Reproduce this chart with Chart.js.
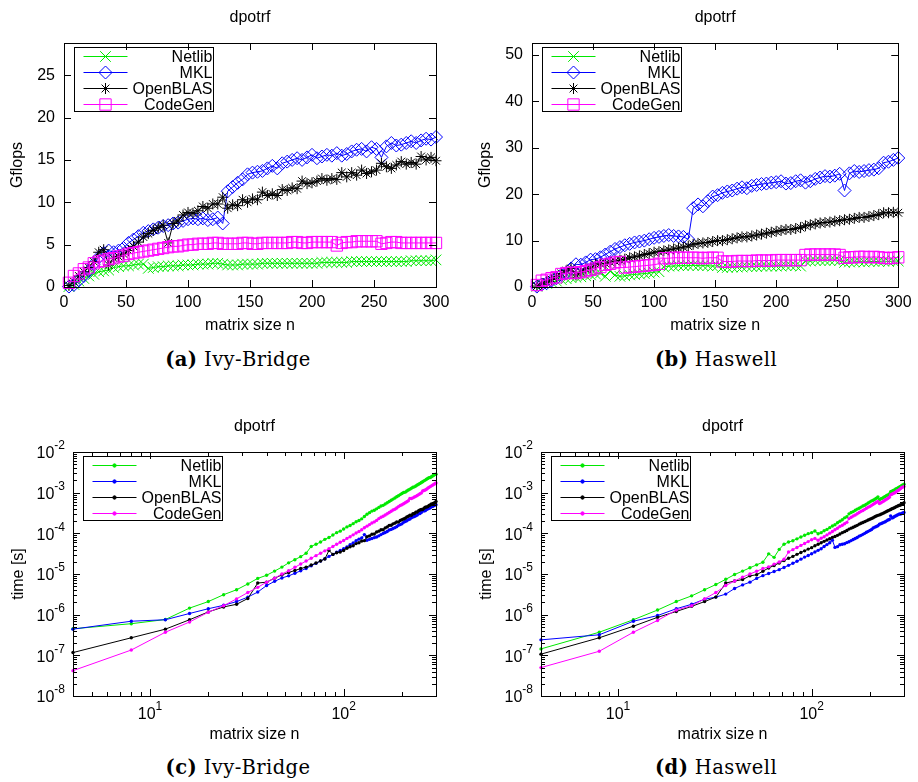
<!DOCTYPE html>
<html>
<head>
<meta charset="utf-8">
<title>dpotrf</title>
<script src="https://cdn.jsdelivr.net/npm/chart.js@4/dist/chart.umd.min.js"></script>
<style>
  body { margin: 0; background: #fff; width: 918px; height: 782px; position: relative; overflow: hidden; }
  canvas { position: absolute; }
  .cap { position: absolute; font-family: "DejaVu Serif", serif; font-size: 19.5px; line-height: 22px;
         letter-spacing: 0.4px; transform: translateX(-50%); white-space: nowrap; color: #000; }
</style>
</head>
<body>
<canvas id="ivyGflops" width="459" height="340" style="left:0px;top:0px"></canvas>
<canvas id="hswGflops" width="459" height="340" style="left:459px;top:0px"></canvas>
<canvas id="ivyTime" width="459" height="340" style="left:0px;top:409px"></canvas>
<canvas id="hswTime" width="459" height="340" style="left:459px;top:409px"></canvas>
<div class="cap" style="left:238px;top:349px"><b>(a)</b> Ivy-Bridge</div>
<div class="cap" style="left:716px;top:349px"><b>(b)</b> Haswell</div>
<div class="cap" style="left:238px;top:757px"><b>(c)</b> Ivy-Bridge</div>
<div class="cap" style="left:716px;top:757px"><b>(d)</b> Haswell</div>
<script>
// matrix sizes n, same for every panel
const sizes = [4,8,12,16,20,24,28,32,36,40,44,48,52,56,60,64,68,72,76,80,84,88,92,96,100,
  104,108,112,116,120,124,128,132,136,140,144,148,152,156,160,164,168,172,176,180,184,188,192,196,200,
  204,208,212,216,220,224,228,232,236,240,244,248,252,256,260,264,268,272,276,280,284,288,292,296,300];

const seriesNames = ['Netlib', 'MKL', 'OpenBLAS', 'CodeGen'];

// (a) Ivy-Bridge, Gflops
const ivyNetlibGf = [0.05,0.3,0.7,1.0,1.3,1.5,1.8,1.9,2.0,2.3, 2.4,2.5,2.5,2.6,2.7,2.7,2.2,2.3,2.4,2.4,
  2.5,2.5,2.5,2.6,2.6,2.6,2.7,2.7,2.7,2.8, 2.8,2.7,2.6,2.6,2.6,2.7,2.7,2.7,2.7,2.8,
  2.8,2.8,2.8,2.8,2.8,2.8,2.8,2.8,2.8,2.8, 2.8,2.9,2.9,2.9,2.9,2.9,2.9,3.0,3.0,3.0,
  3.0,3.0,3.0,3.0,3.0,3.0,3.0,3.0,3.0,3.1, 3.1,3.1,3.1,3.1,3.2];
const ivyMklGf = [0.05,0.25,0.8,1.3,1.9,2.7,3.5,4.0,4.3,4.1, 4.3,4.6,5.2,5.6,6.0,6.4,6.6,6.8,7.0,7.2,
  7.3,7.5,7.6,7.8,8.0,8.1,8.0,8.1,7.9,8.0, 8.2,7.5,11.3,11.8,12.3,12.7,13.3,13.5,13.6,13.7,
  14.0,14.3,14.0,14.6,14.8,15.0,15.2,15.0,15.3,15.6, 15.2,15.4,15.6,15.5,15.8,15.5,15.7,16.0,16.2,16.3,
  16.0,16.5,16.3,15.3,16.6,17.0,16.7,16.8,17.0,17.2, 17.0,17.3,17.5,17.4,17.7];
const ivyOpenblasGf = [0.18,0.63,1.3,1.8,2.3,3.0,4.1,4.4,2.6,3.4, 3.6,3.9,4.3,4.8,5.3,5.9,6.3,6.7,7.0,7.3,
  5.2,7.5,7.8,8.5,8.8,8.7,9.0,9.5,9.3,9.8, 9.8,10.6,9.3,9.7,9.6,10.3,10.0,10.4,10.3,11.2,
  10.8,11.0,10.8,11.5,11.4,11.7,11.6,12.5,12.2,12.3, 12.5,12.8,12.6,12.8,12.7,13.5,13.0,13.5,13.2,13.8,
  13.4,13.6,13.8,14.6,14.2,14.0,14.4,14.8,14.5,14.7, 14.5,15.4,15.0,15.3,14.9];
const ivyCodegenGf = [0.5,1.3,1.6,2.1,2.3,2.8,3.0,3.1,3.3,3.4, 3.6,3.7,3.9,4.0,4.1,4.2,4.3,4.4,4.5,4.6,
  4.7,4.8,4.8,4.9,5.0,5.0,5.1,5.1,5.1,5.2, 5.2,5.1,5.1,5.1,5.1,5.2,5.2,5.1,5.1,5.2,
  5.2,5.2,5.2,5.2,5.2,5.3,5.3,5.2,5.2,5.3, 5.3,5.3,5.3,5.3,4.9,5.2,5.3,5.3,5.4,5.4,
  5.4,5.4,5.4,5.1,5.2,5.3,5.3,5.2,5.2,5.2, 5.2,5.2,5.2,5.2,5.2];

// (b) Haswell, Gflops
const hswNetlibGf = [0.15,0.46,0.77,1.05,1.27,1.6,1.8,2.0,2.1,2.2, 2.4,2.6,2.8,3.0,2.3,3.4,2.6,2.3,2.4,2.6,
  2.7,2.8,2.9,3.0,3.2,3.3,4.3,4.5,4.5,4.6, 4.6,4.6,4.7,4.6,4.6,4.6,4.5,4.6,4.2,4.2,
  4.3,4.3,4.3,4.4,4.4,4.4,4.5,4.5,4.5,4.5, 4.5,4.6,4.6,4.6,4.5,5.6,5.6,5.7,5.7,5.7,
  5.7,5.8,5.7,5.3,5.4,5.4,5.5,5.4,5.5,5.5, 5.5,5.6,5.5,5.6,5.6];
const hswMklGf = [0.09,0.53,0.83,1.4,1.9,2.6,3.0,4.0,4.9,4.8, 5.3,5.9,6.0,6.4,7.0,7.6,8.2,8.6,9.0,9.3,
  9.6,9.8,10.0,10.3,10.6,10.8,11.0,11.2,11.0,10.9, 10.8,10.3,17.0,17.8,17.4,18.5,19.5,19.8,20.3,20.6,
  20.8,21.2,21.5,21.3,21.8,22.0,22.2,22.3,22.5,22.6, 22.8,22.3,22.4,22.8,23.0,22.5,22.8,23.3,23.6,23.9,
  23.8,24.0,24.4,20.8,24.5,25.0,24.8,25.0,25.2,25.3, 25.6,26.8,27.0,27.4,27.8];
const hswOpenblasGf = [0.2,0.63,1.1,1.6,2.2,2.9,3.5,4.0,2.6,3.2, 3.9,4.1,4.9,5.0,5.1,5.4,5.6,5.8,6.0,6.3,
  6.5,6.7,7.0,7.2,7.5,7.6,7.8,8.0,8.2,8.4, 8.6,8.8,9.2,9.4,9.5,9.6,9.8,10.0,10.0,10.2,
  10.4,10.6,10.8,10.8,11.0,11.2,11.4,11.6,11.8,12.0, 12.2,12.4,12.4,12.6,12.8,13.2,13.4,13.6,13.8,13.9,
  14.0,14.2,14.3,14.5,14.6,14.8,15.0,15.0,15.2,15.4, 15.6,16.0,16.0,16.1,16.0];
const hswCodegenGf = [0.43,1.36,1.56,1.9,2.1,2.8,3.0,3.1,3.0,3.2, 3.4,3.7,4.0,4.3,4.8,5.0,5.3,5.4,4.2,4.3,
  4.4,4.5,4.6,4.7,4.8,5.0,6.2,6.2,6.3,6.3, 6.3,6.3,6.3,6.3,6.2,6.3,6.3,6.3,5.5,5.5,
  5.5,5.6,5.6,5.6,5.6,5.7,5.7,5.7,5.7,5.8, 5.8,5.8,5.8,5.8,5.8,6.9,7.0,7.0,7.0,7.0,
  7.0,7.0,6.9,6.3,6.4,6.4,6.5,6.5,6.4,6.5, 6.4,6.3,6.2,6.3,6.4];

// (c) Ivy-Bridge, time [s]
const ivyNetlibTime = [4.5e-7,6.0e-7,7.6e-7,1.45e-6,2.1e-6,3.1e-6,4.1e-6,5.7e-6,7.8e-6,9.3e-6,
  1.18e-5,1.48e-5,1.88e-5,2.25e-5,2.67e-5,3.24e-5,4.76e-5,5.41e-5,6.1e-5,7.11e-5,
  7.9e-5,9.09e-5,1.04e-4,1.13e-4,1.28e-4,1.44e-4,1.56e-4,1.73e-4,1.93e-4,2.06e-4,
  2.27e-4,2.59e-4,2.95e-4,3.23e-4,3.52e-4,3.69e-4,4.0e-4,4.34e-4,4.69e-4,4.88e-4,
  5.25e-4,5.65e-4,6.06e-4,6.49e-4,6.94e-4,7.42e-4,7.91e-4,8.43e-4,8.96e-4,9.52e-4,
  1.01e-3,1.03e-3,1.10e-3,1.16e-3,1.22e-3,1.29e-3,1.36e-3,1.39e-3,1.46e-3,1.54e-3,
  1.61e-3,1.69e-3,1.78e-3,1.86e-3,1.95e-3,2.04e-3,2.14e-3,2.24e-3,2.34e-3,2.36e-3,
  2.46e-3,2.57e-3,2.68e-3,2.79e-3,2.85e-3];
const ivyMklTime = [4.4e-7,6.9e-7,7.5e-7,1.07e-6,1.4e-6,1.7e-6,2.1e-6,2.7e-6,3.6e-6,5.2e-6,
  6.6e-6,8.0e-6,9.0e-6,1.04e-5,1.2e-5,1.37e-5,1.59e-5,1.83e-5,2.09e-5,2.37e-5,
  2.71e-5,3.03e-5,3.42e-5,3.78e-5,4.17e-5,4.63e-5,5.25e-5,5.78e-5,6.59e-5,7.2e-5,
  7.75e-5,9.32e-5,6.78e-5,7.11e-5,7.44e-5,7.84e-5,8.12e-5,8.67e-5,9.31e-5,9.97e-5,
  1.05e-4,1.11e-4,1.21e-4,1.25e-4,1.31e-4,1.38e-4,1.46e-4,1.57e-4,1.64e-4,1.71e-4,
  1.86e-4,1.95e-4,2.04e-4,2.17e-4,2.25e-4,2.42e-4,2.52e-4,2.60e-4,2.70e-4,2.83e-4,
  3.03e-4,3.08e-4,3.27e-4,3.66e-4,3.53e-4,3.61e-4,3.84e-4,3.99e-4,4.12e-4,4.25e-4,
  4.49e-4,4.60e-4,4.74e-4,4.97e-4,5.08e-4];
const ivyOpenblasTime = [1.17e-7,2.7e-7,4.4e-7,7.5e-7,1.17e-6,1.55e-6,1.8e-6,2.5e-6,6.0e-6,6.3e-6,
  7.9e-6,9.5e-6,1.09e-5,1.22e-5,1.36e-5,1.48e-5,1.66e-5,1.86e-5,2.09e-5,2.34e-5,
  3.8e-5,3.03e-5,3.33e-5,3.47e-5,3.79e-5,4.31e-5,4.67e-5,4.93e-5,5.59e-5,5.88e-5,
  6.48e-5,6.6e-5,8.24e-5,8.64e-5,9.53e-5,9.66e-5,1.08e-4,1.13e-4,1.23e-4,1.22e-4,
  1.36e-4,1.44e-4,1.57e-4,1.58e-4,1.71e-4,1.78e-4,1.91e-4,1.89e-4,2.06e-4,2.17e-4,
  2.26e-4,2.34e-4,2.52e-4,2.62e-4,2.80e-4,2.78e-4,3.04e-4,3.08e-4,3.32e-4,3.34e-4,
  3.61e-4,3.74e-4,3.87e-4,3.83e-4,4.13e-4,4.38e-4,4.46e-4,4.53e-4,4.83e-4,4.98e-4,
  5.27e-4,5.17e-4,5.53e-4,5.65e-4,6.04e-4];
const ivyCodegenTime = [4.2e-8,1.35e-7,3.7e-7,6.6e-7,1.15e-6,1.66e-6,2.45e-6,3.5e-6,4.7e-6,6.3e-6,
  7.9e-6,1.0e-5,1.2e-5,1.46e-5,1.76e-5,2.08e-5,2.44e-5,2.83e-5,3.25e-5,3.71e-5,
  4.2e-5,4.73e-5,5.41e-5,6.02e-5,6.67e-5,7.5e-5,8.23e-5,9.18e-5,1.02e-4,1.11e-4,
  1.22e-4,1.37e-4,1.50e-4,1.64e-4,1.79e-4,1.91e-4,2.08e-4,2.30e-4,2.48e-4,2.63e-4,
  2.83e-4,3.04e-4,3.26e-4,3.50e-4,3.74e-4,3.92e-4,4.18e-4,4.54e-4,4.83e-4,5.03e-4,
  5.34e-4,5.66e-4,5.99e-4,6.34e-4,7.24e-4,7.21e-4,7.45e-4,7.85e-4,8.11e-4,8.53e-4,
  8.97e-4,9.42e-4,9.88e-4,1.10e-3,1.13e-3,1.16e-3,1.21e-3,1.29e-3,1.35e-3,1.41e-3,
  1.47e-3,1.53e-3,1.60e-3,1.66e-3,1.73e-3];

// (d) Haswell, time [s]
const hswNetlibTime = [1.44e-7,3.7e-7,7.5e-7,1.3e-6,2.1e-6,2.9e-6,4.1e-6,5.5e-6,7.4e-6,9.7e-6,
  1.18e-5,1.42e-5,1.68e-5,1.95e-5,3.13e-5,2.57e-5,4.03e-5,5.41e-5,6.1e-5,6.57e-5,
  7.32e-5,8.11e-5,8.95e-5,9.83e-5,1.04e-4,1.14e-4,9.77e-5,1.04e-4,1.16e-4,1.25e-4,
  1.38e-4,1.52e-4,1.63e-4,1.82e-4,1.99e-4,2.16e-4,2.40e-4,2.55e-4,3.01e-4,3.25e-4,
  3.42e-4,3.68e-4,3.94e-4,4.13e-4,4.42e-4,4.72e-4,4.92e-4,5.24e-4,5.58e-4,5.93e-4,
  6.29e-4,6.52e-4,6.90e-4,7.30e-4,7.89e-4,6.69e-4,7.06e-4,7.30e-4,7.69e-4,8.08e-4,
  8.50e-4,8.77e-4,9.36e-4,1.06e-3,1.09e-3,1.14e-3,1.17e-3,1.24e-3,1.27e-3,1.33e-3,
  1.39e-3,1.42e-3,1.51e-3,1.54e-3,1.61e-3];
const hswMklTime = [2.4e-7,3.2e-7,6.9e-7,9.5e-7,1.4e-6,1.8e-6,2.4e-6,2.7e-6,3.2e-6,4.4e-6,
  5.4e-6,6.3e-6,7.8e-6,9.1e-6,1.03e-5,1.15e-5,1.28e-5,1.45e-5,1.63e-5,1.84e-5,
  2.06e-5,2.32e-5,2.6e-5,2.86e-5,3.14e-5,3.47e-5,3.82e-5,4.18e-5,4.73e-5,5.28e-5,
  5.88e-5,6.79e-5,4.51e-5,4.71e-5,5.26e-5,5.38e-5,5.54e-5,5.91e-5,6.23e-5,6.63e-5,
  7.07e-5,7.46e-5,7.89e-5,8.53e-5,8.92e-5,9.44e-5,9.98e-5,1.06e-4,1.12e-4,1.18e-4,
  1.24e-4,1.35e-4,1.42e-4,1.47e-4,1.54e-4,1.67e-4,1.73e-4,1.79e-4,1.86e-4,1.93e-4,
  2.03e-4,2.12e-4,2.19e-4,2.69e-4,2.39e-4,2.45e-4,2.59e-4,2.68e-4,2.78e-4,2.89e-4,
  2.98e-4,2.97e-4,3.07e-4,3.16e-4,3.24e-4];
const hswOpenblasTime = [1.07e-7,2.7e-7,5.2e-7,8.6e-7,1.2e-6,1.6e-6,2.1e-6,2.7e-6,6.0e-6,6.7e-6,
  7.3e-6,9.0e-6,9.6e-6,1.17e-5,1.41e-5,1.62e-5,1.87e-5,2.14e-5,2.44e-5,2.71e-5,
  3.04e-5,3.39e-5,3.71e-5,4.1e-5,4.44e-5,4.93e-5,5.38e-5,5.85e-5,6.35e-5,6.86e-5,
  7.39e-5,7.94e-5,8.33e-5,8.92e-5,9.63e-5,1.04e-4,1.10e-4,1.17e-4,1.27e-4,1.34e-4,
  1.41e-4,1.49e-4,1.57e-4,1.68e-4,1.77e-4,1.85e-4,1.94e-4,2.03e-4,2.13e-4,2.22e-4,
  2.32e-4,2.42e-4,2.56e-4,2.67e-4,2.77e-4,2.84e-4,2.95e-4,3.06e-4,3.18e-4,3.32e-4,
  3.46e-4,3.58e-4,3.73e-4,3.86e-4,4.01e-4,4.14e-4,4.28e-4,4.47e-4,4.61e-4,4.75e-4,
  4.89e-4,4.98e-4,5.19e-4,5.37e-4,5.63e-4];
const hswCodegenTime = [5.0e-8,1.26e-7,3.7e-7,7.2e-7,1.3e-6,1.66e-6,2.45e-6,3.5e-6,5.2e-6,6.7e-6,
  8.4e-6,1.0e-5,1.17e-5,1.36e-5,1.5e-5,1.75e-5,1.98e-5,2.3e-5,3.48e-5,3.97e-5,
  4.49e-5,5.05e-5,5.64e-5,6.27e-5,6.94e-5,7.5e-5,6.77e-5,7.55e-5,8.26e-5,9.14e-5,
  1.01e-4,1.11e-4,1.22e-4,1.33e-4,1.48e-4,1.58e-4,1.72e-4,1.86e-4,2.30e-4,2.48e-4,
  2.67e-4,2.82e-4,3.03e-4,3.25e-4,3.47e-4,3.64e-4,3.89e-4,4.14e-4,4.40e-4,4.60e-4,
  4.88e-4,5.17e-4,5.48e-4,5.79e-4,6.12e-4,5.43e-4,5.64e-4,5.95e-4,6.26e-4,6.58e-4,
  6.92e-4,7.26e-4,7.73e-4,8.88e-4,9.15e-4,9.58e-4,9.87e-4,1.03e-3,1.10e-3,1.13e-3,
  1.19e-3,1.26e-3,1.34e-3,1.37e-3,1.41e-3];

// tick values
const sizeTicks = [0, 50, 100, 150, 200, 250, 300];
const ivyGflopsTicks = [0, 5, 10, 15, 20, 25];
const hswGflopsTicks = [0, 10, 20, 30, 40, 50];
const logSizeTicks = [10, 100];
const timeTicks = [1e-8, 1e-7, 1e-6, 1e-5, 1e-4, 1e-3, 1e-2];

const colors = ['#00e800', '#0000ff', '#000000', '#ff00ff'];
// gnuplot point types for the Gflops panels
const markers = [
  {shape: 'crossRot', r: 7.5},
  {shape: 'rectRot', r: 6.5},
  {shape: 'star', r: 5.5},
  {shape: 'rect', r: 8}
];

const FONT = '"Liberation Sans", Arial, sans-serif';
const FS = 16;   // gnuplot text size
Chart.defaults.font.family = FONT;
Chart.defaults.font.size = FS;
Chart.defaults.color = '#000';

function minorLog(min, max) {
  const out = [];
  for (let e = Math.floor(Math.log10(min)); e <= Math.ceil(Math.log10(max)); e++) {
    for (let k = 2; k <= 9; k++) {
      const v = k * Math.pow(10, e);
      if (v > min * 1.0001 && v < max * 0.9999) out.push(v);
    }
  }
  return out;
}

// box, inward ticks, 10^k labels and the boxed key, drawn the gnuplot way
const gnuplotLook = {
  id: 'gnuplotLook',
  afterLayout(chart) {
    const ca = chart.chartArea;
    chart.titleBlock.left = ca.left;   // title centred over the plot box
    chart.titleBlock.right = ca.right;
  },
  afterDatasetsDraw(chart) {
    const {ctx, chartArea: ca, scales} = chart;
    const x = scales.x, y = scales.y;
    ctx.save();
    ctx.strokeStyle = '#000';
    ctx.fillStyle = '#000';
    ctx.lineWidth = 1;

    ctx.beginPath();
    const xTick = (v, len) => {
      const px = Math.round(x.getPixelForValue(v)) + 0.5;
      ctx.moveTo(px, ca.bottom); ctx.lineTo(px, ca.bottom - len);
      ctx.moveTo(px, ca.top); ctx.lineTo(px, ca.top + len);
    };
    const yTick = (v, len) => {
      const py = Math.round(y.getPixelForValue(v)) + 0.5;
      ctx.moveTo(ca.left, py); ctx.lineTo(ca.left + len, py);
      ctx.moveTo(ca.right, py); ctx.lineTo(ca.right - len, py);
    };
    x.ticks.forEach(t => xTick(t.value, 7));
    y.ticks.forEach(t => yTick(t.value, 7));
    if (x.type === 'logarithmic') minorLog(x.min, x.max).forEach(v => xTick(v, 4));
    if (y.type === 'logarithmic') minorLog(y.min, y.max).forEach(v => yTick(v, 4));
    ctx.stroke();
    ctx.strokeRect(Math.round(ca.left) + 0.5, Math.round(ca.top) + 0.5,
                   Math.round(ca.width), Math.round(ca.height));

    const baseFont = FS + 'px ' + FONT, supFont = '12px ' + FONT;
    ctx.textBaseline = 'middle';
    if (y.type === 'logarithmic') {
      y.ticks.forEach(t => {
        const py = y.getPixelForValue(t.value);
        const exp = String(Math.round(Math.log10(t.value)));
        ctx.font = supFont;
        const we = ctx.measureText(exp).width;
        const xr = ca.left - 8;
        ctx.textAlign = 'left';
        ctx.fillText(exp, xr - we, py - 6);
        ctx.font = baseFont;
        ctx.textAlign = 'right';
        ctx.fillText('10', xr - we, py + 2);
      });
    }
    if (x.type === 'logarithmic') {
      x.ticks.forEach(t => {
        const px = x.getPixelForValue(t.value);
        const exp = String(Math.round(Math.log10(t.value)));
        ctx.font = baseFont;
        const wb = ctx.measureText('10').width;
        ctx.font = supFont;
        const we = ctx.measureText(exp).width;
        const x0 = px - (wb + we) / 2;
        ctx.textAlign = 'left';
        ctx.fillText(exp, x0 + wb, ca.bottom + 11);
        ctx.font = baseFont;
        ctx.fillText('10', x0, ca.bottom + 19);
      });
    }

    // key
    const bx = Math.round(ca.left + 10) + 0.5, by = Math.round(ca.top + 4) + 0.5;
    const bw = 139, bh = 64;
    ctx.strokeStyle = '#000';
    ctx.strokeRect(bx, by, bw, bh);
    chart.data.datasets.forEach((ds, i) => {
      const ry = Math.round(by + 8 + 16 * i) + 0.5;
      ctx.strokeStyle = ds.borderColor;
      ctx.lineWidth = 1;
      ctx.beginPath();
      ctx.moveTo(bx + 9, ry); ctx.lineTo(bx + 53, ry);
      ctx.stroke();
      ctx.fillStyle = ds.pointBackgroundColor;
      Chart.helpers.drawPoint(ctx, {pointStyle: ds.pointStyle, radius: ds.pointRadius,
                                    rotation: 0, borderWidth: 1}, bx + 31, ry);
      ctx.fillStyle = '#000';
      ctx.font = baseFont;
      ctx.textAlign = 'right';
      ctx.fillText(ds.label, bx + bw - 1, ry + 1);
    });
    ctx.restore();
  }
};

function makeSets(series, logPanel) {
  return series.map((vals, i) => ({
    label: seriesNames[i],
    data: sizes.map((n, k) => ({x: n, y: vals[k]})),
    borderColor: colors[i],
    borderWidth: 1,
    pointStyle: logPanel ? 'circle' : markers[i].shape,
    pointRadius: logPanel ? 1.7 : markers[i].r,
    pointBorderWidth: logPanel ? 0 : 1,
    pointBorderColor: colors[i],
    pointBackgroundColor: logPanel ? colors[i] : 'rgba(0,0,0,0)',
    tension: 0,
    clip: false,
    order: 3 - i   // later series on top, like gnuplot
  }));
}

function panel(id, opt) {
  const log = opt.log;
  const half = FS * 1.2 / 2;
  return new Chart(document.getElementById(id), {
    type: 'line',
    data: {datasets: makeSets(opt.series, log)},
    options: {
      responsive: false,
      animation: false,
      events: [],
      layout: {padding: {left: 0, right: opt.padRight, top: 0, bottom: 0}},
      scales: {
        x: {
          type: log ? 'logarithmic' : 'linear',
          min: log ? 4 : 0,
          max: 300,
          grid: {display: false, drawTicks: false},
          border: {display: false},
          ticks: {display: !log, padding: 16 - half, maxRotation: 0, autoSkip: false},
          afterBuildTicks: s => { s.ticks = (log ? logSizeTicks : sizeTicks).map(v => ({value: v})); },
          afterFit: s => { s.height = 53; },
          title: {display: true, text: 'matrix size n', padding: {top: 0, bottom: 14 - half}}
        },
        y: {
          type: log ? 'logarithmic' : 'linear',
          min: log ? 1e-8 : 0,
          max: opt.yMax,
          grid: {display: false, drawTicks: false},
          border: {display: false},
          ticks: {display: !log, padding: 9, autoSkip: false},
          afterBuildTicks: s => { s.ticks = opt.yTicks.map(v => ({value: v})); },
          afterFit: s => { s.width = opt.axisWidth; },
          title: {display: true, text: log ? 'time [s]' : 'Gflops', padding: {top: opt.yTitleX - half, bottom: 0}}
        }
      },
      plugins: {
        legend: {display: false},
        tooltip: {enabled: false},
        title: {display: true, text: 'dpotrf', font: {size: FS, weight: 'normal'},
                padding: {top: 18 - half, bottom: 43 - 18 - half}}
      }
    },
    plugins: [gnuplotLook]
  });
}

panel('ivyGflops', {series: [ivyNetlibGf, ivyMklGf, ivyOpenblasGf, ivyCodegenGf],
  yMax: 28.8, yTicks: ivyGflopsTicks, axisWidth: 64, padRight: 23, yTitleX: 18});
panel('hswGflops', {series: [hswNetlibGf, hswMklGf, hswOpenblasGf, hswCodegenGf],
  yMax: 52.6, yTicks: hswGflopsTicks, axisWidth: 73, padRight: 14, yTitleX: 27});
panel('ivyTime', {log: true, series: [ivyNetlibTime, ivyMklTime, ivyOpenblasTime, ivyCodegenTime],
  yMax: 1e-2, yTicks: timeTicks, axisWidth: 73, padRight: 23, yTitleX: 19});
panel('hswTime', {log: true, series: [hswNetlibTime, hswMklTime, hswOpenblasTime, hswCodegenTime],
  yMax: 1e-2, yTicks: timeTicks, axisWidth: 82, padRight: 14, yTitleX: 28});
</script>
</body>
</html>
